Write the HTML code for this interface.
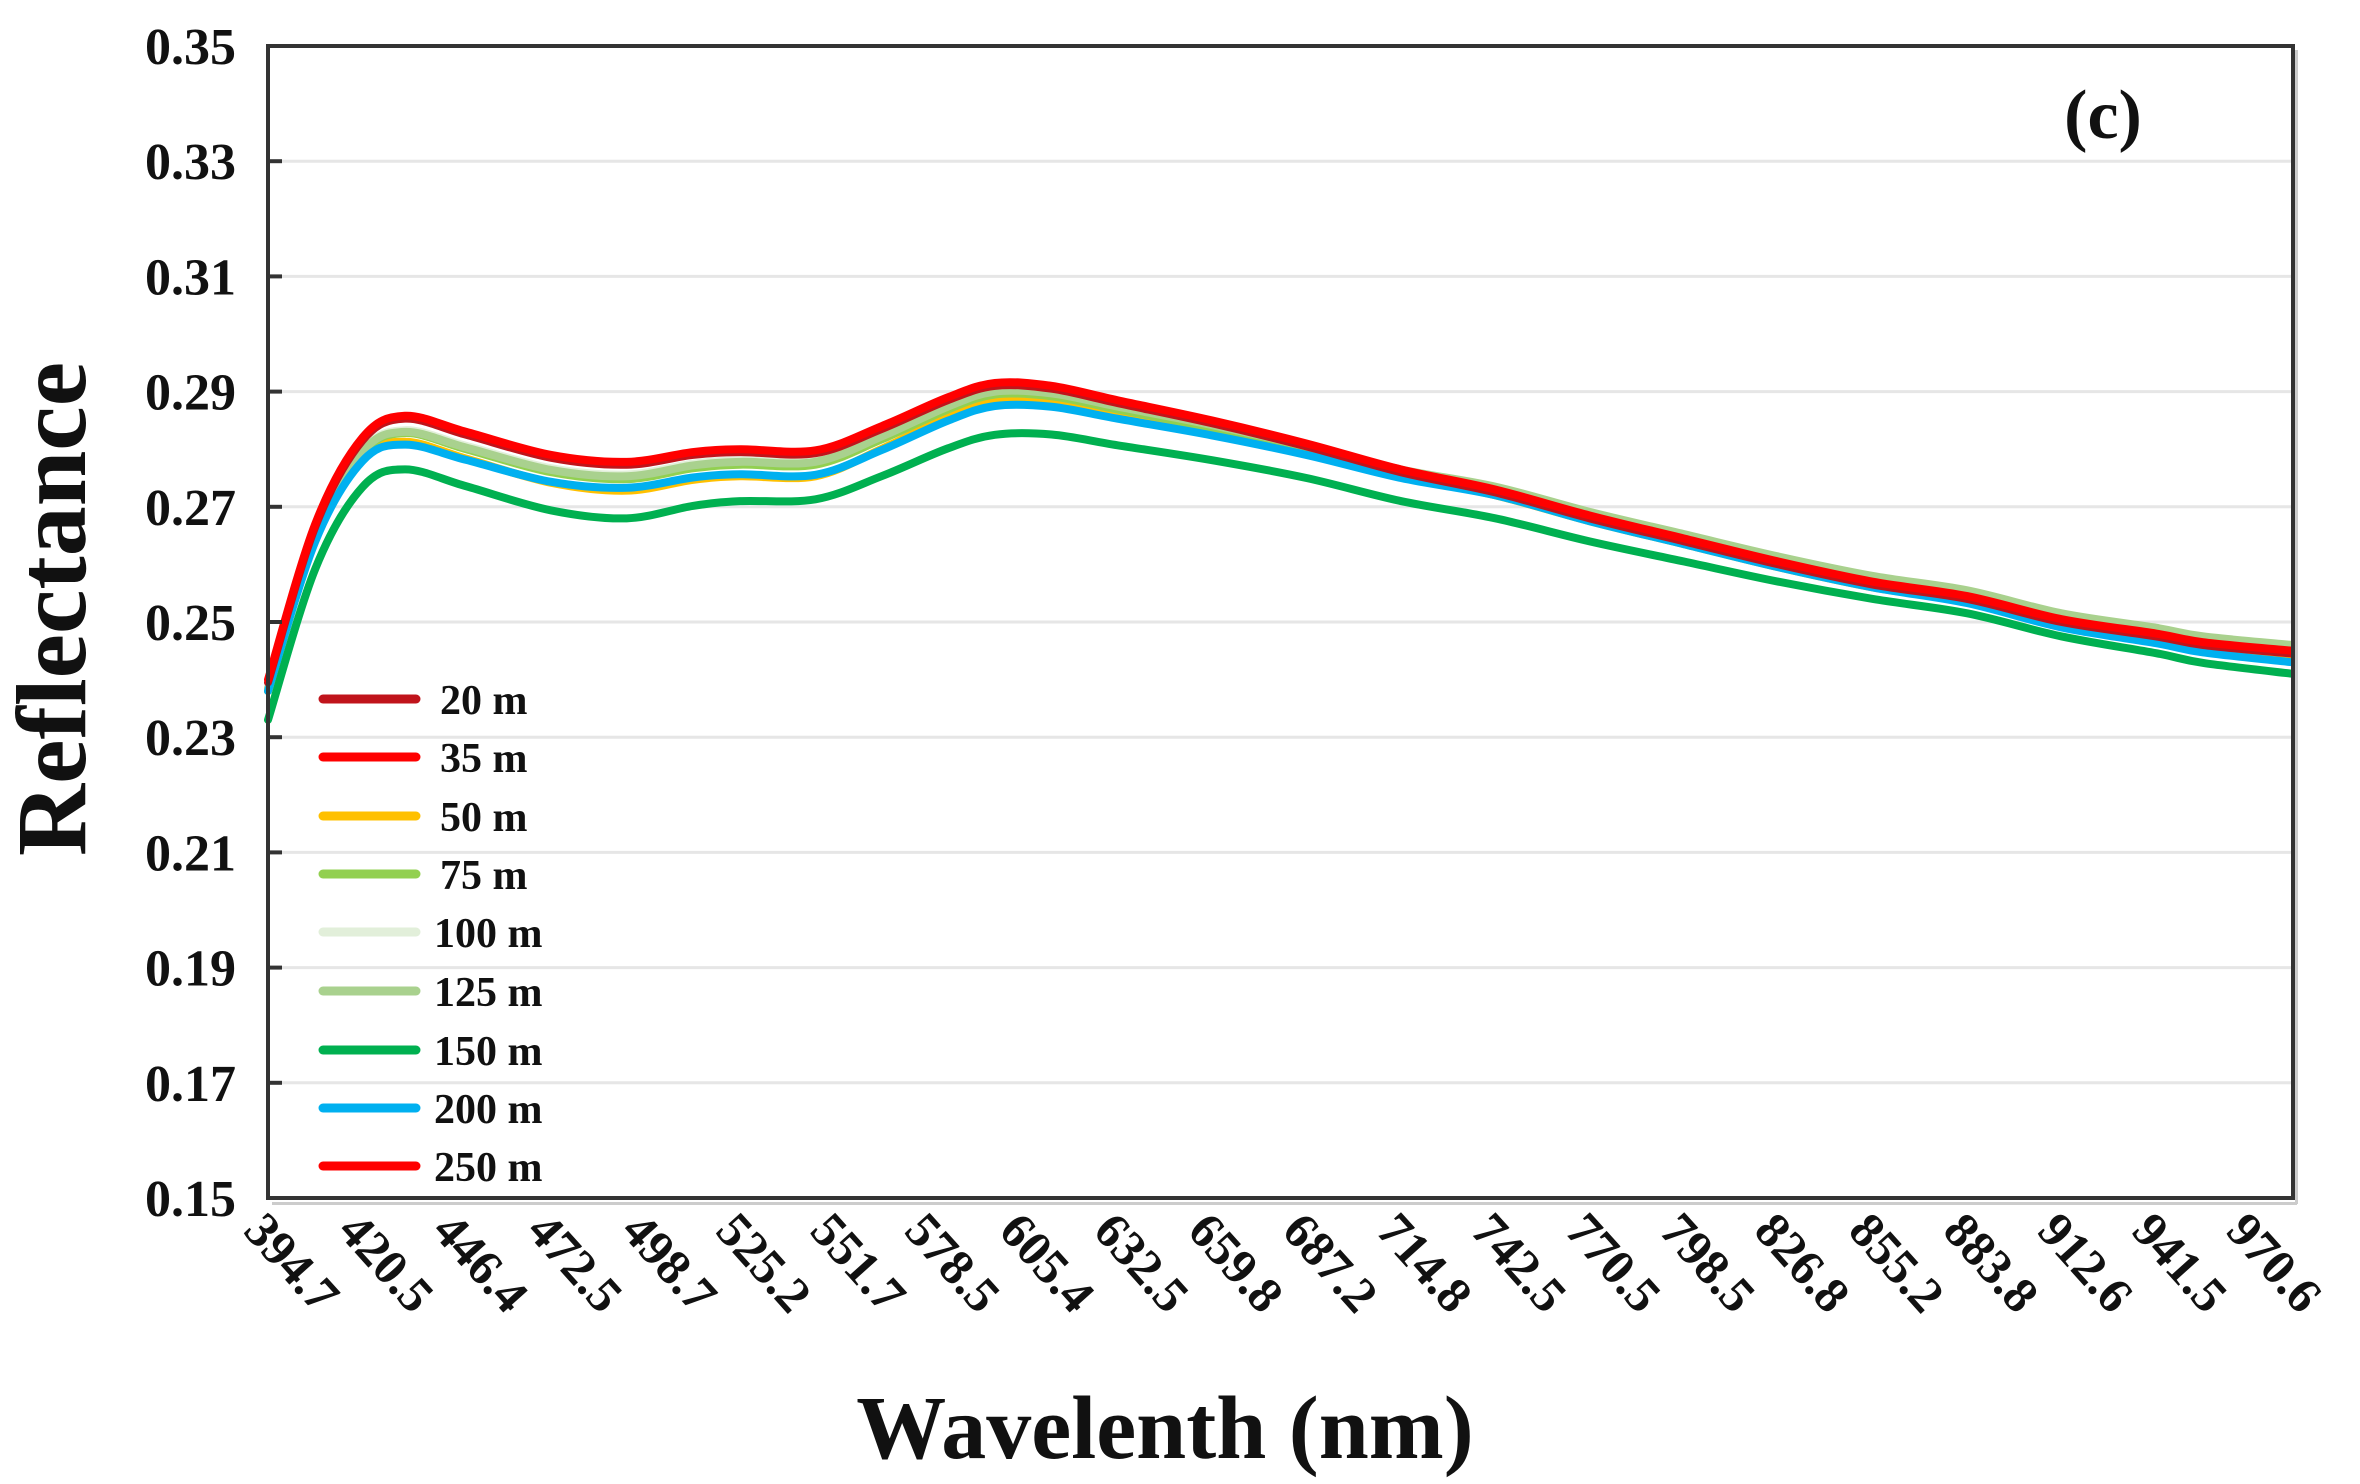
<!DOCTYPE html>
<html><head><meta charset="utf-8"><style>
html,body{margin:0;padding:0;background:#fff;}
svg{display:block;}
text{font-family:"Liberation Serif",serif;font-weight:bold;fill:#111;}
</style></head><body>
<svg id="s" width="2360" height="1484" viewBox="0 0 2360 1484" xmlns="http://www.w3.org/2000/svg">
<rect width="2360" height="1484" fill="#fff"/>
<g id="grid" stroke="#e6e6e6" stroke-width="3"></g>
<g id="curves" fill="none" stroke-linejoin="round" stroke-linecap="round"></g>
<rect x="272" y="1202" width="2025" height="3" fill="#ccc"/>
<rect x="2295" y="50" width="3" height="1154" fill="#ccc"/>
<rect x="268" y="46" width="2025" height="1152" fill="none" stroke="#333" stroke-width="4"/>
<g id="yt"></g>
<g id="xt"></g>
<g id="leg"></g>
<text x="2103" y="138" font-size="70" text-anchor="middle">(c)</text>
<text transform="translate(85,609) rotate(-90)" font-size="100" text-anchor="middle">Reflectance</text>
<text x="1165" y="1458" font-size="90" text-anchor="middle">Wavelenth (nm)</text>
</svg>
<script>
var NS="http://www.w3.org/2000/svg";
function el(p,t,a,txt){var e=document.createElementNS(NS,t);for(var k in a)e.setAttribute(k,a[k]);if(txt!=null)e.textContent=txt;document.getElementById(p).appendChild(e);return e;}
function Y(v){return 1198-(v-0.15)*5760;}
function X(i){return 268+i*94.4;}
for(var k=0;k<=10;k++){var v=0.15+k*0.02,y=Y(v);
 if(k>0&&k<10)el("grid","line",{x1:270,x2:2291,y1:y,y2:y});
 if(k>0&&k<10)el("yt","line",{x1:268,x2:282,y1:y,y2:y,stroke:"#333","stroke-width":4});
 el("yt","text",{x:236,y:y+18,"font-size":52,"text-anchor":"end"},v.toFixed(2));}
var labs=["394.7","420.5","446.4","472.5","498.7","525.2","551.7","578.5","605.4","632.5","659.8","687.2","714.8","742.5","770.5","798.5","826.8","855.2","883.8","912.6","941.5","970.6"];
labs.forEach(function(l,i){var x=250+i*94.4-8,y=1222+10;el("xt","text",{x:x,y:y,"font-size":50,transform:"rotate(48 "+x+" "+y+")"},l);});
var red=[[0,0.240],[0.5,0.267],[1,0.282],[1.45,0.2858],[2.1,0.283],[3,0.279],[3.8,0.2778],[4.5,0.2795],[5,0.280],[5.8,0.2798],[6.5,0.284],[7.2,0.289],[7.7,0.2915],[8.3,0.291],[9,0.2885],[10,0.285],[11,0.281],[12,0.2765],[13,0.273],[14,0.2685],[15,0.2645],[16,0.2605],[17,0.257],[18,0.2545],[19,0.2505],[20,0.248],[20.5,0.2465],[21.45,0.245]];
function interp(tab,i){if(i<=tab[0][0])return tab[0][1];for(var k=1;k<tab.length;k++){if(i<=tab[k][0]){var a=tab[k-1],b=tab[k];return a[1]+(b[1]-a[1])*(i-a[0])/(b[0]-a[0]);}}return tab[tab.length-1][1];}
var D={
 blue:[[0,0.002],[1.45,0.005],[3.8,0.0045],[7.7,0.004],[11,0.002],[13,0.001],[17,0.001],[21.45,0.002]],
 yellow:[[0,0.002],[1.45,0.0045],[3.8,0.005],[5.8,0.0045],[7.7,0.003],[11,0.001],[21.45,0.001]],
 green:[[0,0.007],[1.45,0.0093],[3.8,0.0098],[5.8,0.0085],[7.7,0.009],[11,0.006],[13,0.005],[15,0.004],[17,0.003],[19,0.003],[21.45,0.004]],
 lg:[[0,0.0015],[1.45,0.0028],[3.8,0.0025],[7.7,0.0015],[11,0.0005],[13,-0.0005],[17,-0.001],[21.45,-0.001]],
 g75:[[0,0.002],[1.45,0.003],[3.8,0.003],[7.7,0.002],[11,0.001],[13,0],[21.45,0]],
 w100:[[0,0.0015],[1.45,0.0025],[3.8,0.0022],[7.7,0.0012],[11,0.0005],[21.45,-0.0005]],
 r20:[[0,0.0005],[21.45,0.0005]],
 red:[[0,0],[21.45,0]]};
function path(dk){var pts=red.map(function(p){return [X(p[0]),Y(p[1]-interp(D[dk],p[0]))];});
 var d="M"+pts[0][0]+","+pts[0][1];
 for(var k=0;k<pts.length-1;k++){var p0=pts[Math.max(0,k-1)],p1=pts[k],p2=pts[k+1],p3=pts[Math.min(pts.length-1,k+2)];
  d+=" C"+(p1[0]+(p2[0]-p0[0])/6)+","+(p1[1]+(p2[1]-p0[1])/6)+" "+(p2[0]-(p3[0]-p1[0])/6)+","+(p2[1]-(p3[1]-p1[1])/6)+" "+p2[0]+","+p2[1];}
 return d;}
[["yellow","#ffc000"],["w100","#e2efda"],["g75","#92d050"],["lg","#a9d18e"],["blue","#00b0f0"],["green","#00b050"],["r20","#c0141b"],["red","#ff0000"]].forEach(function(s){el("curves","path",{d:path(s[0]),stroke:s[1],"stroke-width":8});});
var L=[["20 m","#c0141b"],["35 m","#ff0000"],["50 m","#ffc000"],["75 m","#92d050"],["100 m","#e2efda"],["125 m","#a9d18e"],["150 m","#00b050"],["200 m","#00b0f0"],["250 m","#ff0000"]];
var ly=[699,757,816,874,932,991,1050,1108,1166];
L.forEach(function(l,i){el("leg","line",{x1:323,x2:416,y1:ly[i],y2:ly[i],stroke:l[1],"stroke-width":9,"stroke-linecap":"round"});
 el("leg","text",{x:l[0].length>4?434:440,y:ly[i]+15,"font-size":42},l[0]);});
</script>
</body></html>
